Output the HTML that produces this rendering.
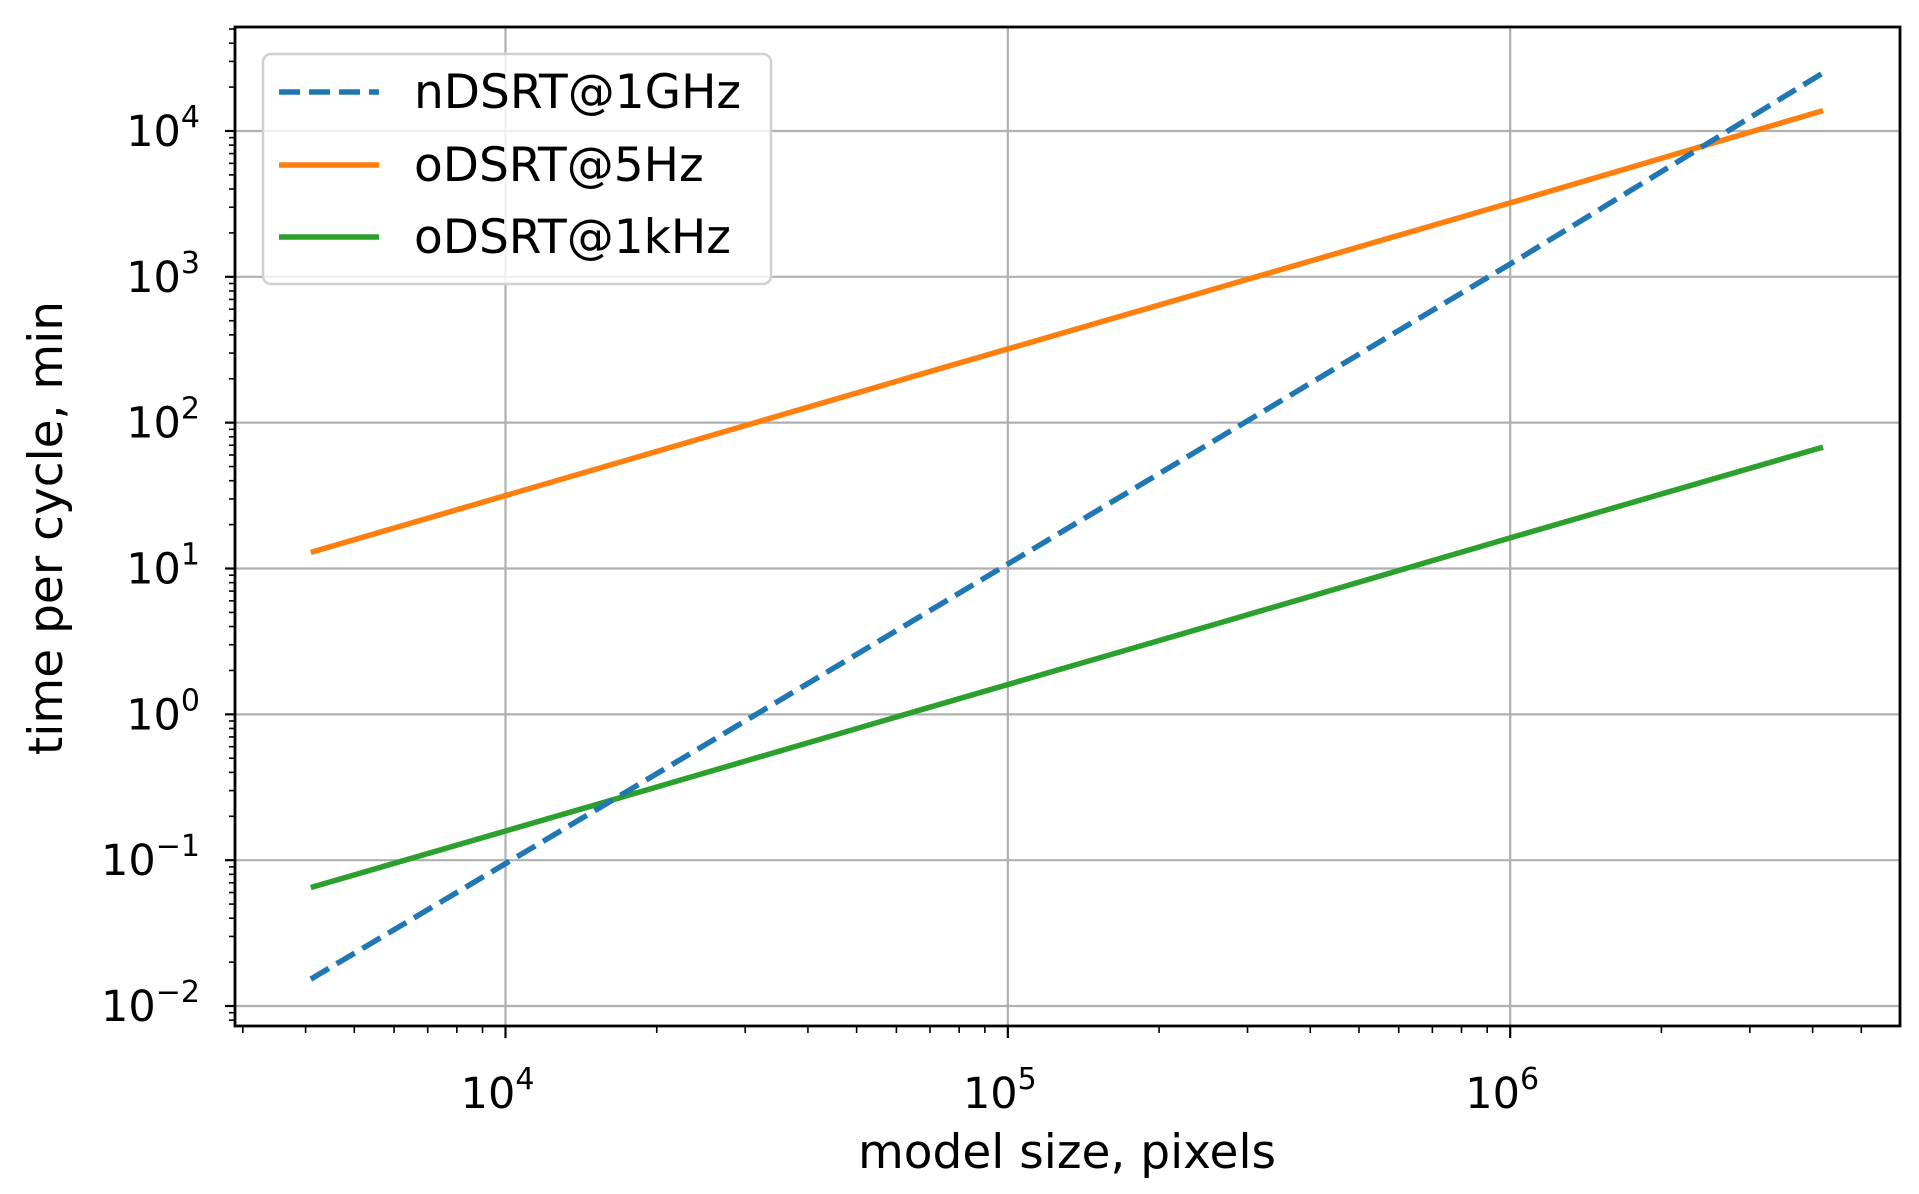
<!DOCTYPE html>
<html><head><meta charset="utf-8"><style>
html,body{margin:0;padding:0;background:#fff;}
svg{display:block;font-family:"DejaVu Sans","Liberation Sans",sans-serif;}
</style></head><body>
<svg id="chart" width="1919" height="1194" viewBox="0 0 1919 1194" xmlns="http://www.w3.org/2000/svg">
<g id="grid"></g>
<g id="series"></g>
<rect x="235" y="27" width="1665" height="999" fill="none" stroke="#000" stroke-width="2.8"/>
<g id="ticks"></g>
<text x="1067" y="1168" font-size="47" text-anchor="middle">model size, pixels</text>
<text transform="translate(62,528) rotate(-90)" font-size="47" text-anchor="middle">time per cycle, min</text>
<g>
<rect x="263" y="54" width="508" height="230" rx="8" fill="#fff" fill-opacity="0.8" stroke="#d0d0d0" stroke-width="2.5"/>
<g>
<line x1="279" y1="92" x2="379" y2="92" stroke="#1f77b4" stroke-width="5.5" stroke-dasharray="21 9"/>
<text x="414" y="108" font-size="47">nDSRT@1GHz</text></g>
<g>
<line x1="279" y1="165" x2="379" y2="165" stroke="#ff7f0e" stroke-width="5.5"/>
<text x="414" y="181" font-size="47">oDSRT@5Hz</text></g>
<g>
<line x1="279" y1="237" x2="379" y2="237" stroke="#2ca02c" stroke-width="5.5"/>
<text x="414" y="253" font-size="47">oDSRT@1kHz</text></g>
</g>
</svg>
<script>
const modelSizes = [4096, 16384, 65536, 262144, 1048576, 4194304];
const nDSRT1GHz = [0.0153, 0.26, 4.5, 78, 1350, 25000];
const oDSRT5Hz = [12.9, 52, 210, 840, 3370, 13800];
const oDSRT1kHz = [0.065, 0.26, 1.05, 4.2, 17, 68];
const yTickExps = [-2, -1, 0, 1, 2, 3, 4];
const xTickExps = [4, 5, 6];

const L=235,R=1900,T=27,B=1026;
const xMin=3.4615,xMax=6.776,yMin=-2.137,yMax=4.713;
const sx=v=>L+(Math.log10(v)-xMin)/(xMax-xMin)*(R-L);
const sy=v=>B-(Math.log10(v)-yMin)/(yMax-yMin)*(B-T);
const NS="http://www.w3.org/2000/svg";
function mk(tag,attrs,parent){const e=document.createElementNS(NS,tag);for(const k in attrs)e.setAttribute(k,attrs[k]);parent.appendChild(e);return e;}
const grid=document.getElementById('grid'),ticks=document.getElementById('ticks'),series=document.getElementById('series');

yTickExps.forEach(p=>{
  const y=sy(Math.pow(10,p));
  const g=mk('line',{x1:L,x2:R,y1:y,y2:y,stroke:'#b0b0b0','stroke-width':2.2},grid);
  
  
  mk('line',{x1:L-10,x2:L,y1:y,y2:y,stroke:'#000','stroke-width':2.2},ticks);
  const t=mk('text',{x:200,y:y+15,'font-size':43,'text-anchor':'end'},ticks);
  
  
  t.textContent='10';
  const s=mk('tspan',{dy:-19,'font-size':30},t);
  s.textContent=(p<0?'\u2212':'')+Math.abs(p);
});
for(let p=-3;p<=4;p++)for(let m=2;m<=9;m++){const v=m*Math.pow(10,p);const y=sy(v);if(y<T||y>B)continue;mk('line',{x1:L-6,x2:L,y1:y,y2:y,stroke:'#000','stroke-width':1.6},ticks);}
xTickExps.forEach(p=>{
  const x=sx(Math.pow(10,p));
  const g=mk('line',{x1:x,x2:x,y1:T,y2:B,stroke:'#b0b0b0','stroke-width':2.2},grid);
  
  
  mk('line',{x1:x,x2:x,y1:B,y2:B+12,stroke:'#000','stroke-width':2.2},ticks);
  const t=mk('text',{x:x-8,y:1108,'font-size':43,'text-anchor':'middle'},ticks);
  
  
  t.textContent='10';
  const s=mk('tspan',{dy:-19,'font-size':30},t);
  s.textContent=String(p);
});
for(let p=3;p<=6;p++)for(let m=2;m<=9;m++){const x=sx(m*Math.pow(10,p));if(x<L||x>R)continue;mk('line',{x1:x,x2:x,y1:B,y2:B+7,stroke:'#000','stroke-width':1.6},ticks);}

function draw(vals,color,name,dash){
  const pts=modelSizes.map((v,i)=>sx(v).toFixed(1)+','+sy(vals[i]).toFixed(1)).join(' ');
  const a={points:pts,fill:'none',stroke:color,'stroke-width':5.5};
  if(dash)a['stroke-dasharray']=dash;
  const p=mk('polyline',a,series);
  
  
}
draw(oDSRT5Hz,'#ff7f0e','line-odsrt-5hz');
draw(oDSRT1kHz,'#2ca02c','line-odsrt-1khz');
draw(nDSRT1GHz,'#1f77b4','line-ndsrt-1ghz','21 9');
</script>
</body></html>
